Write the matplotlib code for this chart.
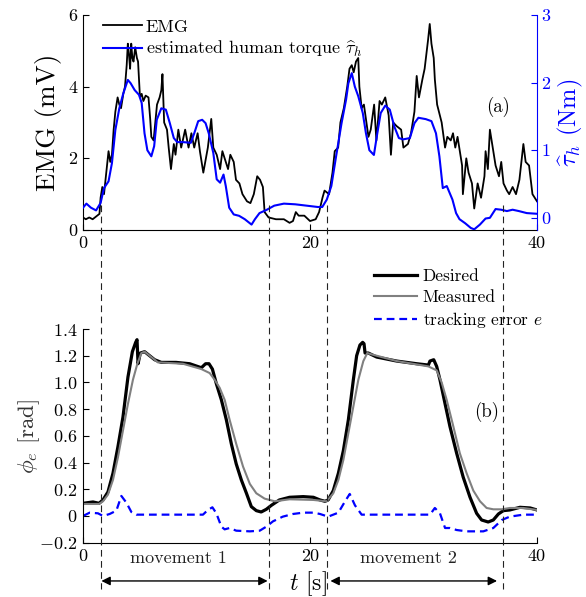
import matplotlib
matplotlib.use('Agg')
import matplotlib.pyplot as plt
from matplotlib.transforms import blended_transform_factory
from matplotlib.lines import Line2D

plt.rcParams.update({
    'font.family': 'cmr10',
    'mathtext.fontset': 'cm',
    'axes.unicode_minus': False,
    'font.size': 13,
    'axes.linewidth': 0.8,
})

# ---------------- data: panel (a) ----------------
emg_t = [0, 0.25, 0.55, 0.85, 1.25, 1.45, 1.55, 1.7, 1.85, 2.05,
         2.25, 2.4, 2.55, 2.7, 2.85, 3.05, 3.2, 3.35, 3.55, 3.7,
         3.85, 3.95, 4.05, 4.15, 4.25, 4.35, 4.45, 4.6, 4.75, 4.85,
         5.02, 5.17, 5.32, 5.52, 5.77, 5.92, 6.02, 6.22, 6.37, 6.52,
         6.75, 6.9, 7.0, 7.15, 7.4, 7.55, 7.75, 8.0, 8.15, 8.4,
         8.65, 9.0, 9.3, 9.55, 9.8, 10.1, 10.3, 10.6, 11.0, 11.3,
         11.48, 11.78, 12.08, 12.28, 12.48, 12.78, 12.98, 13.28, 13.48, 13.78,
         14.05, 14.45, 14.75, 15.05, 15.35, 15.6, 15.85, 16.0, 16.35, 17.0,
         17.7, 18.2, 18.5, 18.75, 19.0, 19.5, 20.0, 20.5, 20.8, 21.1,
         21.28, 21.68, 21.98, 22.18, 22.48, 22.68, 22.98, 23.28, 23.48, 23.68,
         23.85, 24.05, 24.25, 24.35, 24.55, 24.75, 25.15, 25.35, 25.65, 25.85,
         26.13, 26.33, 26.63, 26.93, 27.13, 27.33, 27.63, 28.03, 28.23, 28.63,
         28.9, 29.2, 29.4, 29.6, 29.9, 30.1, 30.4, 30.55, 30.7, 30.9,
         31.0, 31.2, 31.6, 31.9, 32.1, 32.4, 32.6, 32.8, 33.0, 33.4,
         33.47, 33.77, 33.97, 34.27, 34.47, 34.77, 35.07, 35.37, 35.47, 35.67,
         35.85, 36.05, 36.35, 36.65, 36.85, 37.05, 37.35, 37.55, 37.85, 38.15,
         38.45, 38.8, 39.0, 39.3, 39.6, 40.0]
emg_mv = [0.35, 0.3, 0.35, 0.3, 0.4, 0.45, 0.9, 1.2, 1.0, 1.6,
          2.2, 1.9, 2.1, 2.8, 3.3, 3.7, 3.5, 3.4, 3.8, 4.0,
          4.6, 5.2, 4.9, 4.5, 5.2, 4.8, 4.7, 5.1, 4.8, 4.7,
          3.7, 3.8, 3.6, 3.75, 3.7, 3.1, 2.6, 2.5, 3.0, 3.5,
          3.7, 3.9, 4.35, 3.0, 2.8, 2.3, 1.7, 2.4, 2.1, 2.8,
          2.3, 2.8, 2.3, 2.7, 2.3, 2.7, 2.2, 1.6, 2.3, 3.1,
          2.3, 2.1, 1.7, 2.2, 2.0, 1.7, 2.1, 1.9, 1.4, 1.3,
          1.0, 0.8, 0.75, 1.0, 1.5, 1.4, 1.2, 0.5, 0.35, 0.3,
          0.3, 0.2, 0.25, 0.5, 0.4, 0.4, 0.25, 0.3, 0.5, 0.9,
          1.1, 1.0, 1.6, 2.2, 2.3, 3.0, 3.4, 4.0, 4.5, 4.6,
          4.4, 4.7, 4.8, 4.0, 3.4, 3.5, 2.6, 2.8, 3.5, 2.5,
          3.6, 3.5, 3.7, 3.2, 2.1, 3.0, 2.9, 2.8, 2.3, 2.4,
          2.7, 3.3, 4.3, 3.7, 4.2, 4.5, 5.3, 5.75, 5.2, 4.8,
          4.2, 3.5, 3.0, 2.3, 2.6, 2.5, 2.7, 2.3, 2.6, 1.8,
          1.0, 2.0, 1.6, 1.3, 0.6, 1.3, 0.9, 1.5, 2.2, 1.7,
          2.8, 2.4, 1.8, 1.5, 1.9, 1.3, 1.1, 1.0, 1.2, 1.0,
          1.4, 2.4, 1.9, 1.8, 1.0, 0.8]

tau_t = [0, 0.3, 0.7, 1.15, 1.55, 1.85, 2.25, 2.55, 2.85, 3.2,
         3.55, 3.95, 4.2, 4.55, 4.93, 5.17, 5.42, 5.67, 6.02, 6.27,
         6.5, 6.9, 7.3, 7.65, 8.0, 8.3, 8.8, 9.5, 9.8, 10.15,
         10.5, 10.8, 11.08, 11.48, 11.78, 12.08, 12.38, 12.58, 12.88, 13.28,
         13.75, 14.25, 14.85, 15.15, 15.55, 16.2, 16.85, 17.7, 18.7, 19.7,
         20.7, 21.08, 21.48, 21.88, 22.28, 22.78, 23.18, 23.38, 23.68, 23.95,
         24.25, 24.65, 24.93, 25.23, 25.63, 25.93, 26.23, 26.63, 27.03, 27.43,
         27.83, 28.2, 28.8, 29.2, 29.55, 30.2, 30.7, 31.1, 31.4, 31.7,
         32.05, 32.55, 32.87, 33.17, 33.67, 34.17, 34.47, 34.97, 35.47, 35.85,
         36.35, 36.85, 37.35, 37.85, 38.4, 39.1, 40.0]
tau_nm = [0.15, 0.21, 0.15, 0.11, 0.22, 0.44, 0.54, 0.81, 1.3, 1.62,
          1.84, 2.04, 1.99, 1.89, 1.82, 1.7, 1.25, 1.0, 0.91, 1.06,
          1.45, 1.62, 1.6, 1.4, 1.18, 1.12, 1.12, 1.11, 1.25, 1.43,
          1.45, 1.4, 1.25, 0.96, 0.57, 0.52, 0.64, 0.47, 0.15, 0.05,
          0.03, -0.02, -0.1, -0.02, 0.07, 0.12, 0.18, 0.21, 0.2, 0.18,
          0.16, 0.16, 0.27, 0.47, 0.89, 1.4, 1.75, 1.99, 2.14, 1.94,
          1.8, 1.55, 1.25, 1.0, 0.93, 1.25, 1.55, 1.66, 1.6, 1.35,
          1.18, 1.16, 1.18, 1.4, 1.48, 1.46, 1.43, 1.25, 0.91, 0.44,
          0.47, 0.27, 0.07, -0.02, -0.08, -0.15, -0.17, -0.1, -0.01, 0.0,
          0.13, 0.12, 0.1, 0.12, 0.1, 0.07, 0.06]

# ---------------- data: panel (b) ----------------
des_t = [0, 0.88, 1.41, 1.76, 2.2, 2.64, 3.08, 3.52, 3.96, 4.35,
         4.64, 4.76, 4.85, 5.05, 5.43, 5.87, 6.31, 6.9, 8.2, 9.4,
         10.43, 10.8, 11.1, 11.4, 11.75, 12.19, 12.63, 13.07, 13.5, 13.95,
         14.4, 14.83, 15.27, 15.7, 16.15, 16.6, 17.3, 18.2, 19.4, 20.3,
         20.88, 21.32, 21.6, 22.05, 22.5, 22.94, 23.38, 23.82, 24.11, 24.4,
         24.64, 24.76, 24.85, 25.14, 25.87, 27.64, 29.4, 30.43, 30.57, 30.9,
         31.16, 31.45, 31.9, 32.33, 32.92, 33.5, 34.1, 34.68, 35.12, 35.7,
         36.15, 36.6, 37.03, 37.6, 38.5, 39.4, 40.0]
des_phi = [0.095, 0.105, 0.095, 0.12, 0.18, 0.32, 0.52, 0.74, 1.04, 1.23,
           1.30, 1.32, 1.14, 1.22, 1.23, 1.2, 1.17, 1.15, 1.15, 1.14,
           1.11, 1.14, 1.14, 1.1, 0.99, 0.87, 0.72, 0.54, 0.39, 0.27,
           0.17, 0.07, 0.04, 0.03, 0.05, 0.08, 0.12, 0.14, 0.145, 0.14,
           0.12, 0.11, 0.12, 0.19, 0.32, 0.49, 0.72, 1.02, 1.2, 1.28,
           1.3, 1.29, 1.22, 1.22, 1.19, 1.16, 1.14, 1.13, 1.16, 1.17,
           1.12, 1.02, 0.84, 0.67, 0.47, 0.29, 0.14, 0.02, -0.03, -0.045,
           -0.03, 0.015, 0.04, 0.045, 0.065, 0.06, 0.045]

meas_t = [0, 1.41, 1.76, 2.2, 2.64, 3.08, 3.52, 3.96, 4.4, 4.79,
          5.14, 5.43, 5.87, 6.6, 8.8, 10.43, 11.16, 11.6, 12.04, 12.48,
          12.92, 13.5, 14.1, 14.7, 15.27, 16.0, 16.9, 18.2, 20.3, 21.47,
          22.05, 22.5, 22.94, 23.38, 23.82, 24.26, 24.7, 25.05, 25.43, 27.64,
          30.43, 31.16, 31.6, 32.04, 32.63, 33.2, 33.8, 34.39, 34.98, 35.56,
          36.15, 36.9, 37.6, 38.8, 40.0]
meas_phi = [0.09, 0.09, 0.11, 0.16, 0.27, 0.44, 0.64, 0.84, 1.02, 1.14,
            1.22, 1.23, 1.2, 1.15, 1.14, 1.1, 1.07, 1.02, 0.96, 0.87,
            0.72, 0.54, 0.37, 0.24, 0.17, 0.13, 0.11, 0.125, 0.12, 0.11,
            0.17, 0.27, 0.42, 0.62, 0.82, 1.02, 1.16, 1.22, 1.21, 1.16,
            1.12, 1.09, 1.0, 0.87, 0.67, 0.47, 0.32, 0.19, 0.11, 0.06,
            0.05, 0.05, 0.06, 0.06, 0.045]

err_t = [0, 0.59, 1.32, 1.76, 2.35, 2.94, 3.38, 3.82, 4.26, 4.7,
         10.57, 11.0, 11.4, 11.75, 12.19, 12.48, 12.92, 13.5, 14.7, 15.57,
         16.15, 16.74, 17.6, 18.5, 19.4, 20.3, 20.88, 21.6, 22.5, 23.09,
         23.5, 23.96, 24.55, 30.57, 31.0, 31.45, 31.9, 32.33, 32.92, 33.8,
         35.27, 36.15, 36.9, 37.6, 38.8, 40.0]
err_val = [0.0, 0.025, 0.02, 0.0, 0.015, 0.04, 0.15, 0.10, 0.03, 0.01,
           0.01, 0.045, 0.065, 0.02, -0.08, -0.1, -0.09, -0.11, -0.115, -0.11,
           -0.08, -0.04, -0.005, 0.015, 0.025, 0.025, 0.015, -0.005, 0.025, 0.11,
           0.165, 0.08, 0.01, 0.01, 0.06, 0.02, -0.09, -0.09, -0.105, -0.115,
           -0.115, -0.09, -0.03, -0.005, 0.01, 0.01]

# movement phase boundaries (s)
phase_bounds = [1.62, 16.39, 21.53, 36.97]
movements = [(1.62, 16.39, 'movement 1'), (21.53, 36.97, 'movement 2')]

# ticks
x_ticks = [0, 20, 40]
emg_ticks = [0, 2, 4, 6]
tau_ticks = [0, 1, 2, 3]
phi_ticks = [-0.2, 0, 0.2, 0.4, 0.6, 0.8, 1.0, 1.2, 1.4]

BLUE = '#0000ff'
W, H = 586, 597


def fx(px):
    return px / W


def fy(py):
    return 1 - py / H


fig = plt.figure(figsize=(W / 100, H / 100), dpi=100)
ax1 = fig.add_axes([fx(83), fy(230), 454 / W, 215 / H])
ax2 = fig.add_axes([fx(83), fy(542.7), 454 / W, 213.7 / H])

# ---------- panel (a) ----------
l_emg, = ax1.plot(emg_t, emg_mv, color='k', lw=1.3, label='EMG')
ax1r = ax1.twinx()
l_tau, = ax1r.plot(tau_t, tau_nm, color=BLUE, lw=1.5,
                   label=r'estimated human torque $\widehat{\tau}_h$')
ax1.set_xlim(0, 40)
ax1.set_ylim(0, 6)
ax1r.set_ylim(-0.18, 3)
ax1.set_xticks(x_ticks)
ax1.set_xticklabels([str(v) for v in x_ticks])
ax1.set_yticks(emg_ticks)
ax1.set_yticklabels([str(v) for v in emg_ticks])
ax1r.set_yticks(tau_ticks)
ax1r.set_yticklabels([str(v) for v in tau_ticks])
for s in ['top', 'right']:
    ax1.spines[s].set_visible(False)
for s in ['top', 'left', 'bottom']:
    ax1r.spines[s].set_visible(False)
ax1r.spines['right'].set_color(BLUE)
ax1.tick_params(direction='in', length=4, width=0.8, pad=4, labelsize=13)
ax1r.tick_params(axis='y', direction='in', length=4, width=0.8, pad=3,
                 labelsize=13, colors=BLUE)
ax1.set_ylabel('EMG (mV)', fontsize=19.5)
ax1.yaxis.set_label_coords(-0.046, 0.5)
ax1r.set_ylabel(r'$\widehat{\tau}_h$ (Nm)', fontsize=17.5, color=BLUE)
ax1r.yaxis.set_label_coords(1.042, 0.5)
ax1.text(0.914, 0.572, '(a)', transform=ax1.transAxes, ha='center',
         va='center', fontsize=13.5)
ax1r.legend([l_emg, l_tau], [l_emg.get_label(), l_tau.get_label()],
            loc='upper left', bbox_to_anchor=(fx(103), fy(19)),
            bbox_transform=fig.transFigure, frameon=False, borderpad=0,
            borderaxespad=0, handlelength=2.17, handletextpad=0.2,
            labelspacing=0.25, fontsize=13)

# ---------- panel (b) ----------
l_des, = ax2.plot(des_t, des_phi, color='k', lw=2.3, label='Desired')
l_meas, = ax2.plot(meas_t, meas_phi, color='#808080', lw=1.5, label='Measured')
l_err, = ax2.plot(err_t, err_val, color=BLUE, lw=1.6,
                  linestyle=(0, (3.5, 2.2)), label=r'tracking error $e$')
ax2.set_xlim(0, 40)
ax2.set_ylim(-0.2, 1.4)
ax2.set_xticks(x_ticks)
ax2.set_xticklabels([str(v) for v in x_ticks])
ax2.set_yticks(phi_ticks)
ax2.set_yticklabels(['$0$' if v == 0 else '$%.1f$' % v for v in phi_ticks])
for s in ['top', 'right']:
    ax2.spines[s].set_visible(False)
ax2.tick_params(direction='in', length=4, width=0.8, pad=4, labelsize=13)
ax2.set_ylabel(r'$\phi_e$ [rad]', fontsize=16.5, color='#333333')
ax2.yaxis.set_label_coords(-0.091, 0.5)
ax2.set_xlabel(r'$t$ [s]', fontsize=17)
ax2.xaxis.set_label_coords(0.496, -0.122)
ax2.text(0.89, 0.612, '(b)', transform=ax2.transAxes, ha='center',
         va='center', fontsize=13.5)
ax2.legend([l_des, l_meas, l_err], ['Desired', 'Measured', r'tracking error $e$'],
           loc='upper left', bbox_to_anchor=(fx(374), fy(269)),
           bbox_transform=fig.transFigure, frameon=False, borderpad=0,
           borderaxespad=0, handlelength=2.47, handletextpad=0.34,
           labelspacing=0.3, fontsize=12.5)

# phase boundary dashed lines spanning both panels
vtrans = blended_transform_factory(ax2.transData, fig.transFigure)
for b in phase_bounds:
    fig.add_artist(Line2D([b, b], [fy(205), fy(589)], transform=vtrans,
                          color='#222222', lw=0.8, linestyle=(0, (6, 4))))

# movement labels and arrows
atrans = blended_transform_factory(ax2.transData, ax2.transAxes)
shrinks = [(0, 1), (2.2, 4)]
for (a, b, name), (sa, sb) in zip(movements, shrinks):
    ax2.text((a + b) / 2 - 0.6, -0.072, name, transform=atrans, ha='center',
             va='center', fontsize=13, color='#222222')
    ax2.annotate('', xy=(b, -0.179), xytext=(a, -0.179), xycoords=atrans,
                 textcoords=atrans, annotation_clip=False,
                 arrowprops=dict(arrowstyle='<|-|>', color='k', lw=1.0,
                                 shrinkA=sa, shrinkB=sb, mutation_scale=13))

fig.savefig('out.png', dpi=100)
